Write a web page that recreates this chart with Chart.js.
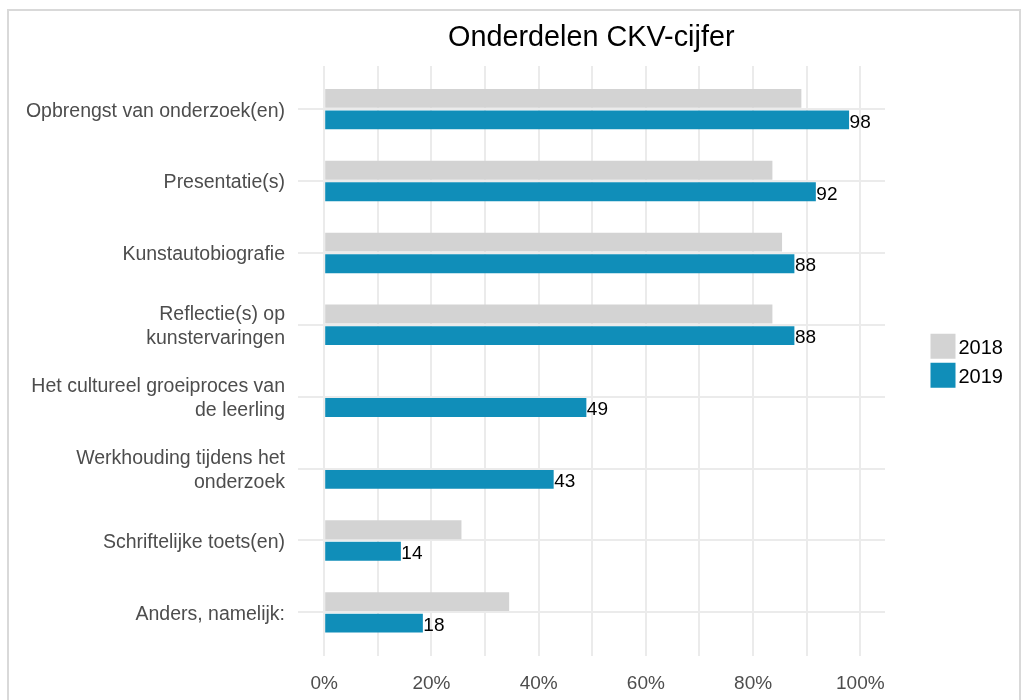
<!DOCTYPE html>
<html>
<head>
<meta charset="utf-8">
<script src="https://cdn.jsdelivr.net/npm/chart.js@4"></script>
<style>
  body { margin: 0; background: #fff; }
  #wrap { position: relative; width: 1021px; height: 700px; overflow: hidden; }
  #frame { position: absolute; left: 7px; top: 9px; width: 1010px; height: 700px; border: 2px solid #d9d9d9; border-bottom: none; }
  canvas { position: absolute; left: 0; top: 0; }
</style>
</head>
<body>
<div id="wrap">
  <div id="frame"></div>
  <canvas id="chart" width="1021" height="700"></canvas>
</div>
<script>
// categories (top to bottom), multi-line labels as arrays
const categories = [
  "Opbrengst van onderzoek(en)",
  "Presentatie(s)",
  "Kunstautobiografie",
  ["Reflectie(s) op", "kunstervaringen"],
  ["Het cultureel groeiproces van", "de leerling"],
  ["Werkhouding tijdens het", "onderzoek"],
  "Schriftelijke toets(en)",
  "Anders, namelijk:"
]
const years = ["2018", "2019"]
// percentages
const values2018 = [89.0, 83.6, 85.4, 83.6, null, null, 25.6, 34.5]
const values2019 = [97.9, 91.7, 87.7, 87.7, 48.9, 42.8, 14.3, 18.4]
const xTickLabels = [0, 20, 40, 60, 80, 100]
const colors = ["#d3d3d3", "#108eb9"]

const fontFamily = '"Liberation Sans", Arial, sans-serif'
Chart.defaults.font.family = fontFamily

const toPoints = vals => vals.map((v, i) => ({ x: v, y: i + 1 }))

// title centred over the panel
const titlePlugin = {
  id: 'panelTitle',
  afterDraw(chart) {
    const ctx = chart.ctx, area = chart.chartArea
    ctx.save()
    ctx.font = '28.8px ' + fontFamily
    ctx.fillStyle = '#000'
    ctx.textAlign = 'center'
    ctx.textBaseline = 'middle'
    ctx.fillText('Onderdelen CKV-cijfer', (area.left + area.right) / 2, 38.5)
    ctx.restore()
  }
}

// value labels at the end of the 2019 bars
const valueLabels = {
  id: 'valueLabels',
  afterDatasetsDraw(chart) {
    const ctx = chart.ctx
    const meta = chart.getDatasetMeta(1)
    ctx.save()
    ctx.font = '19px ' + fontFamily
    ctx.fillStyle = '#000'
    ctx.textAlign = 'left'
    ctx.textBaseline = 'middle'
    meta.data.forEach((bar, i) => {
      if (values2019[i] == null) return
      ctx.fillText(String(Math.round(values2019[i])), bar.x + 0.5, bar.y + 2.5)
    })
    ctx.restore()
  }
}

// legend to the right of the panel, vertically centred
const sideLegend = {
  id: 'sideLegend',
  afterDraw(chart) {
    const ctx = chart.ctx, area = chart.chartArea
    const x = area.right + 45.5
    const midY = (area.top + area.bottom) / 2
    const y0 = midY - 27
    ctx.save()
    ctx.font = '20px ' + fontFamily
    ctx.textAlign = 'left'
    ctx.textBaseline = 'middle'
    chart.data.datasets.forEach((ds, i) => {
      const y = y0 + i * 29
      ctx.fillStyle = ds.backgroundColor
      ctx.fillRect(x, y, 25, 25)
      ctx.fillStyle = '#000'
      ctx.fillText(ds.label, x + 28, y + 15)
    })
    ctx.restore()
  }
}

new Chart(document.getElementById('chart'), {
  type: 'bar',
  data: {
    datasets: [
      { label: years[0], data: toPoints(values2018), backgroundColor: colors[0] },
      { label: years[1], data: toPoints(values2019), backgroundColor: colors[1] }
    ]
  },
  options: {
    indexAxis: 'y',
    responsive: false,
    animation: false,
    devicePixelRatio: 1,
    categoryPercentage: 0.6,
    barPercentage: 0.875,
    layout: { padding: { top: 66, right: 136, left: 0, bottom: 0 } },
    plugins: {
      legend: { display: false },
      tooltip: { enabled: false },
      title: { display: false }
    },
    scales: {
      x: {
        type: 'linear',
        min: -4.98,
        max: 104.6,
        border: { display: false },
        grid: { color: '#ebebeb', lineWidth: 2, drawTicks: false },
        ticks: {
          stepSize: 10,
          includeBounds: false,
          padding: 17,
          color: '#4d4d4d',
          font: { size: 19 },
          maxRotation: 0,
          autoSkip: false,
          callback: v => xTickLabels.includes(v) ? v + '%' : ''
        },
        afterFit(scale) { scale.height = 44.5 }
      },
      y: {
        type: 'linear',
        reverse: true,
        min: 0.4,
        max: 8.6,
        offset: false,
        border: { display: false },
        grid: { color: '#ebebeb', lineWidth: 2, drawTicks: false, offset: false },
        ticks: {
          stepSize: 1,
          includeBounds: false,
          padding: 12.5,
          labelOffset: 2,
          color: '#4d4d4d',
          font: { size: 19.5, lineHeight: 1.23 },
          autoSkip: false,
          callback: v => categories[v - 1]
        },
        afterFit(scale) { scale.width = 297.5 }
      }
    }
  },
  plugins: [titlePlugin, valueLabels, sideLegend]
})
</script>
</body>
</html>
